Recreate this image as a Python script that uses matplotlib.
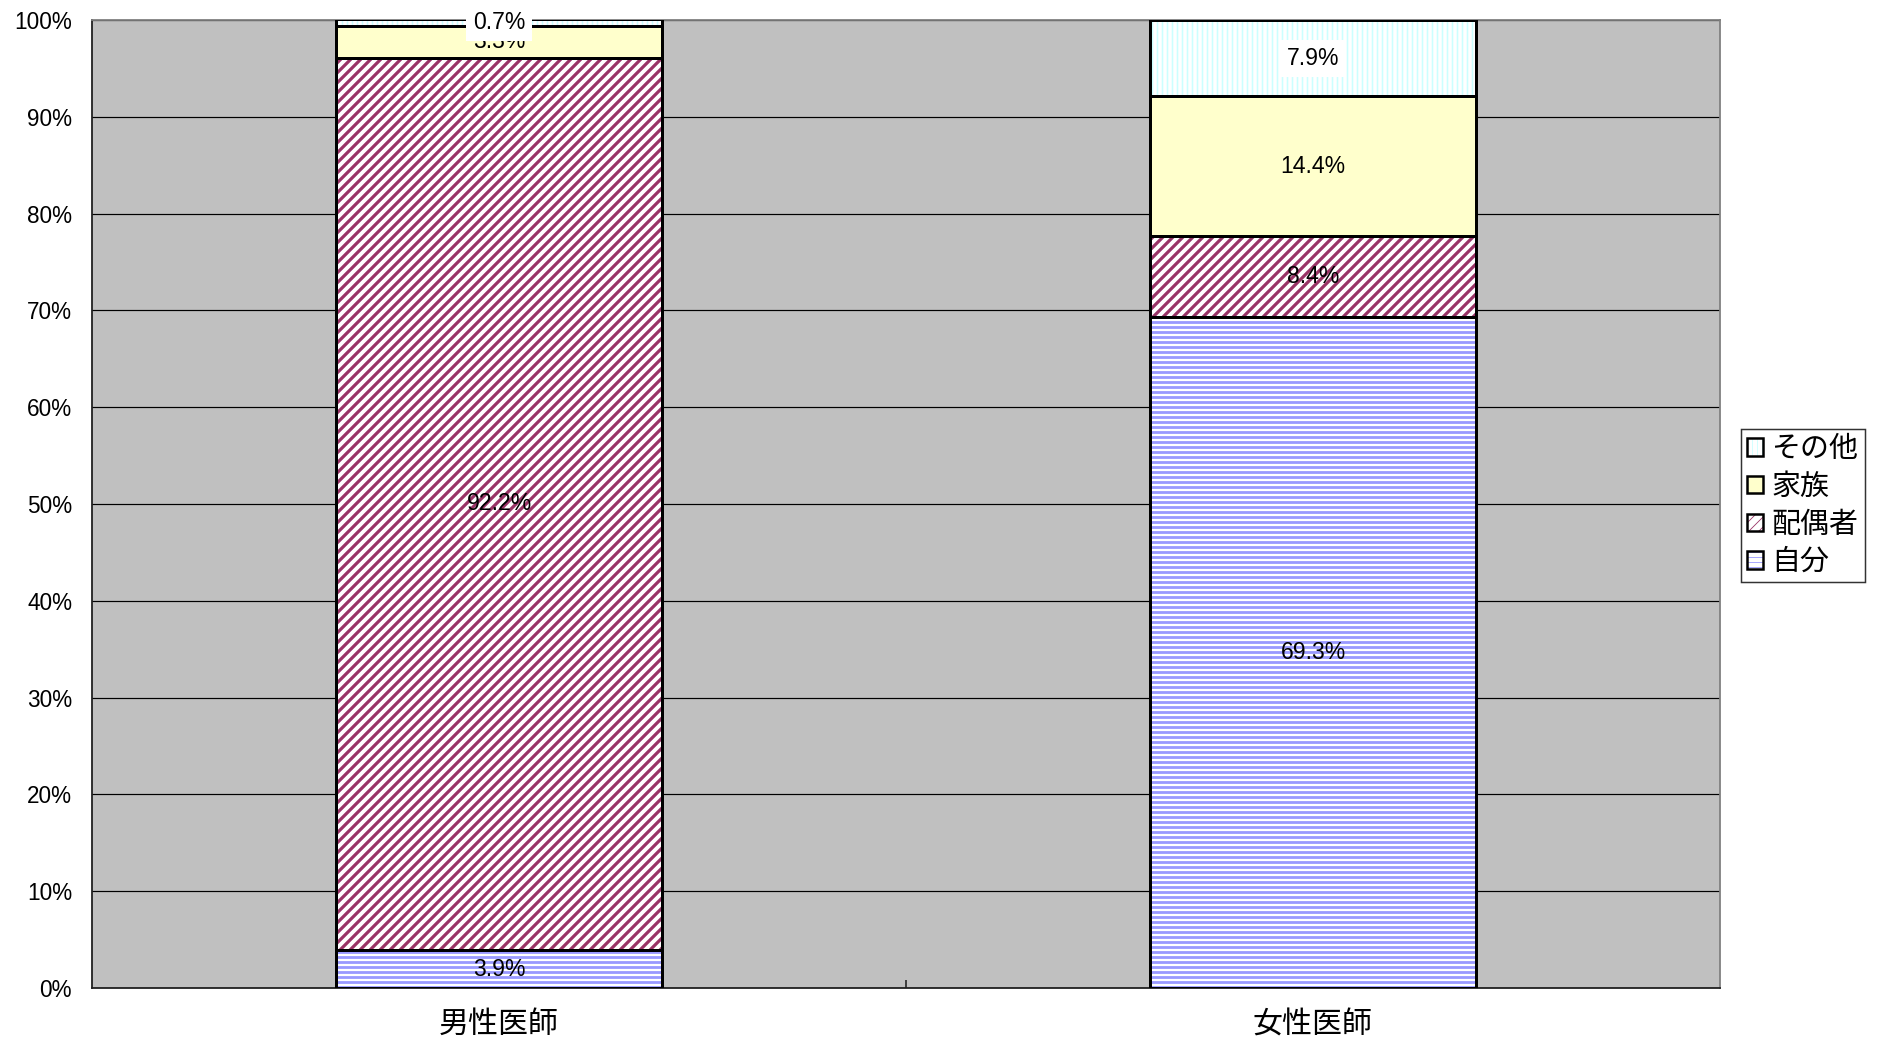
import matplotlib
matplotlib.use("Agg")
import matplotlib.pyplot as plt
from matplotlib.patches import Patch
import numpy as np

# ---- data -------------------------------------------------------------
categories = ["男性医師", "女性医師"]
series_names = ["自分", "配偶者", "家族", "その他"]
self_vals = [3.9, 69.3]
spouse_vals = [92.2, 8.4]
family_vals = [3.3, 14.4]
other_vals = [0.7, 7.9]
yticks = [0, 10, 20, 30, 40, 50, 60, 70, 80, 90, 100]
ytick_labels = [f"{v}%" for v in yticks]

# ---- figure setup -----------------------------------------------------
DPI = 60
PT = 72 / DPI          # points per output pixel
W, H = 1881, 1042

plt.rcParams['font.family'] = ['Liberation Sans', 'Noto Sans CJK JP']

fig = plt.figure(figsize=(W / DPI, H / DPI), dpi=DPI, facecolor='white')
ax = fig.add_axes([92 / W, 54 / H, 1628 / W, 968 / H])
ax.set_facecolor('#C0C0C0')

# series styles: face colour, hatch, hatch colour, hatch line width (px)
styles = [
    ('white', '--', '#9999FF', 2.8),
    ('white', '//', '#993366', 3.2),
    ('#FFFFCC', None, None, 1.0),
    ('white', '||', '#CCFFFF', 1.6),
]
series_vals = [self_vals, spouse_vals, family_vals, other_vals]

x = np.arange(len(categories))
width = 0.4
bottom = np.zeros(len(categories))
segments = []
for vals, (face, hatch, hcol, hlw) in zip(series_vals, styles):
    vals = np.asarray(vals)
    with plt.rc_context({'hatch.linewidth': hlw * PT}):
        ax.bar(x, vals, width, bottom=bottom, color=face,
               edgecolor=hcol if hatch else face, hatch=hatch,
               linewidth=0, zorder=2)
    ax.bar(x, vals, width, bottom=bottom, fill=False, edgecolor='black',
           linewidth=3 * PT, zorder=3)
    segments.append((vals, bottom.copy()))
    bottom = bottom + vals

# ---- data labels -----------------------------------------------------
label_fs = 23 * PT
for si, (vals, bot) in enumerate(segments):
    for xi, (v, b) in enumerate(zip(vals, bot)):
        kw = {}
        if si == 3:
            kw['bbox'] = dict(boxstyle='square,pad=0.3', facecolor='white',
                              edgecolor='none')
        ax.text(x[xi], b + v / 2, f"{v:.1f}%", ha='center', va='center',
                fontsize=label_fs, color='black', zorder=5 + si, **kw)

# ---- axes ------------------------------------------------------------
ax.set_xlim(-0.5, 1.5)
ax.set_ylim(0, 100)
ax.set_yticks(yticks)
ax.set_yticklabels(ytick_labels)
ax.set_xticks(x)
ax.set_xticklabels(categories)
ax.set_xticks([0.5], minor=True)
ax.tick_params(axis='y', length=0, pad=20 * PT, labelsize=22.5 * PT)
ax.tick_params(axis='x', which='major', length=0, pad=23 * PT,
               labelsize=30 * PT)
ax.tick_params(axis='x', which='minor', direction='in', length=8 * PT,
               width=2 * PT, color='#404040')

ax.set_axisbelow(True)
ax.yaxis.grid(True, color='black', linewidth=1.2 * PT)
ax.xaxis.grid(False)

for side, col in [('left', '#202020'), ('bottom', '#202020'),
                  ('top', '#808080'), ('right', '#808080')]:
    ax.spines[side].set_color(col)
    ax.spines[side].set_linewidth(1.8 * PT)

# ---- legend ----------------------------------------------------------
handles = []
for face, hatch, hcol, hlw in styles:
    with plt.rc_context({'hatch.linewidth': hlw * PT}):
        fillp = Patch(facecolor=face, edgecolor=hcol if hatch else face,
                      hatch=hatch, linewidth=0)
    edgep = Patch(facecolor='none', edgecolor='black', linewidth=2.5 * PT)
    handles.append((fillp, edgep))

leg = fig.legend(handles[::-1], series_names[::-1], loc='upper left',
                 bbox_to_anchor=(1741 / W, 1 - 429 / H), borderaxespad=0,
                 fontsize=29 * PT, frameon=True, fancybox=False,
                 edgecolor='black', handlelength=0.55, handleheight=0.55,
                 handletextpad=0.28, labelspacing=0.33, borderpad=0.22)
leg.get_frame().set_linewidth(1.5 * PT)

fig.savefig('out.png', dpi=DPI, facecolor='white')
